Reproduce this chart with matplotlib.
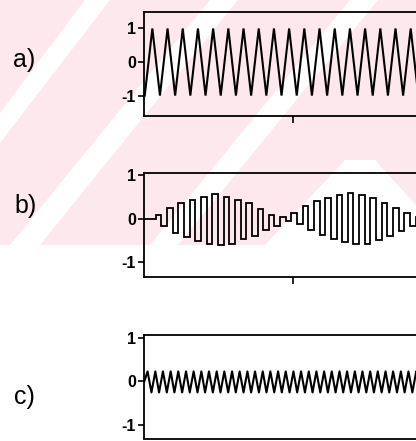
import numpy as np
import matplotlib
matplotlib.use("Agg")
import matplotlib.pyplot as plt
from matplotlib.patches import Polygon

# ---------------- data ----------------
panel_labels = ["a)", "b)", "c)"]
ytick_vals = [-1, 0, 1]
ytick_labels = ["-1", "0", "1"]
xtick_vals = [1.0]

# a) triangle wave vertices
a_t = [0.003, 0.054, 0.105, 0.156, 0.207, 0.258, 0.309, 0.360, 0.411, 0.462,
       0.513, 0.564, 0.615, 0.666, 0.717, 0.768, 0.819, 0.870, 0.921, 0.972,
       1.023, 1.074, 1.125, 1.176, 1.227, 1.278, 1.329, 1.380, 1.431, 1.482,
       1.533, 1.584, 1.635, 1.686, 1.737, 1.788, 1.839, 1.890, 1.941, 1.992]
a_v = [-1, 1, -1, 1, -1, 1, -1, 1, -1, 1,
       -1, 1, -1, 1, -1, 1, -1, 1, -1, 1,
       -1, 1, -1, 1, -1, 1, -1, 1, -1, 1,
       -1, 1, -1, 1, -1, 1, -1, 1, -1, 1]

# b) stepped (square) carrier with beating envelope
b_edges = [0.000, 0.077, 0.115, 0.153, 0.191, 0.229, 0.267, 0.305, 0.342, 0.380,
           0.418, 0.456, 0.494, 0.532, 0.570, 0.608, 0.646, 0.684, 0.722, 0.760,
           0.798, 0.835, 0.873, 0.911, 0.949, 0.987, 1.025, 1.063, 1.101, 1.139,
           1.177, 1.215, 1.253, 1.290, 1.328, 1.366, 1.404, 1.442, 1.480, 1.518,
           1.556, 1.594, 1.632, 1.670, 1.708, 1.746, 1.783, 1.821, 1.859, 1.897,
           2.000]
b_up = [0.09, 0.25, 0.35, 0.43, 0.50, 0.56, 0.50, 0.43, 0.35, 0.23, 0.08, 0.03,
        0.12, 0.30, 0.40, 0.48, 0.55, 0.60, 0.55, 0.47, 0.37, 0.25, 0.12, 0.04]
b_down = [-0.17, -0.33, -0.42, -0.52, -0.58, -0.62, -0.60, -0.48, -0.40, -0.27, -0.17, -0.05,
          -0.12, -0.27, -0.38, -0.47, -0.55, -0.60, -0.58, -0.50, -0.41, -0.30, -0.18, -0.07]

# c) small fast triangle wave vertices
c_t = [0.000, 0.022, 0.048, 0.074, 0.099, 0.125, 0.151, 0.177, 0.202, 0.228,
       0.254, 0.280, 0.305, 0.331, 0.357, 0.383, 0.408, 0.434, 0.460, 0.486,
       0.511, 0.537, 0.563, 0.589, 0.614, 0.640, 0.666, 0.692, 0.717, 0.743,
       0.769, 0.795, 0.820, 0.846, 0.872, 0.898, 0.923, 0.949, 0.975, 1.001,
       1.026, 1.052, 1.078, 1.104, 1.129, 1.155, 1.181, 1.207, 1.232, 1.258,
       1.284, 1.310, 1.335, 1.361, 1.387, 1.413, 1.438, 1.464, 1.490, 1.516,
       1.541, 1.567, 1.593, 1.619, 1.644, 1.670, 1.696, 1.722, 1.747, 1.773,
       1.799, 1.825, 1.850, 1.876, 1.902, 1.928, 1.953, 1.979]
c_v = [0.0, 0.23, -0.25, 0.23, -0.25, 0.23, -0.25, 0.23, -0.25, 0.23,
       -0.25, 0.23, -0.25, 0.23, -0.25, 0.23, -0.25, 0.23, -0.25, 0.23,
       -0.25, 0.23, -0.25, 0.23, -0.25, 0.23, -0.25, 0.23, -0.25, 0.23,
       -0.25, 0.23, -0.25, 0.23, -0.25, 0.23, -0.25, 0.23, -0.25, 0.23,
       -0.25, 0.23, -0.25, 0.23, -0.25, 0.23, -0.25, 0.23, -0.25, 0.23,
       -0.25, 0.23, -0.25, 0.23, -0.25, 0.23, -0.25, 0.23, -0.25, 0.23,
       -0.25, 0.23, -0.25, 0.23, -0.25, 0.23, -0.25, 0.23, -0.25, 0.23,
       -0.25, 0.23, -0.25, 0.23, -0.25, 0.23, -0.25, 0.23]

# ---------------- figure ----------------
W, H = 416, 441
fig = plt.figure(figsize=(W / 100, H / 100), dpi=100)
fig.patch.set_facecolor("white")

PINK = "#fde9ed"

def px(x, y):
    return (x / W, 1 - y / H)

# background watermark (approximate)
bg = [
    [(0, 0), (416, 0), (416, 205), (375, 160), (345, 160), (265, 245), (0, 245)],
]
for poly in bg:
    fig.patches.append(Polygon([px(*p) for p in poly], closed=True,
                               transform=fig.transFigure, facecolor=PINK,
                               edgecolor="none", zorder=-10))
white_bands = [
    [(85, 0), (110, 0), (0, 143), (0, 113)],
    [(238, 0), (210, 0), (10, 245), (40, 245)],
    [(378, 0), (350, 0), (150, 245), (178, 245)],
]
for poly in white_bands:
    fig.patches.append(Polygon([px(*p) for p in poly], closed=True,
                               transform=fig.transFigure, facecolor="white",
                               edgecolor="none", zorder=-9))

left = 144.3 / W
width = 298 / W
boxes = [(11.7, 115.7), (173.3, 276.7), (335.0, 438.5)]
ylims = [(-1.6, 1.5), (-1.35, 1.05), (-1.30, 1.06)]
label_pos = [(13, 60), (14, 206), (14, 397)]

axes = []
for i, ((top, bot), yl) in enumerate(zip(boxes, ylims)):
    ax = fig.add_axes([left, 1 - bot / H, width, (bot - top) / H])
    ax.patch.set_alpha(0)
    ax.set_xlim(0, 2)
    ax.set_ylim(*yl)
    ax.set_yticks(ytick_vals)
    ax.set_yticklabels(ytick_labels, fontfamily="Liberation Sans",
                       fontweight="bold", fontsize=11.5)
    ax.set_xticks(xtick_vals if i < 2 else [])
    ax.set_xticklabels([])
    ax.tick_params(axis="y", direction="out", length=4, width=1.2, pad=2)
    ax.tick_params(axis="x", direction="out", length=5, width=1.2)
    for s in ax.spines.values():
        s.set_linewidth(1.3)
    axes.append(ax)

axes[0].plot(a_t, a_v, color="black", lw=1.5, solid_joinstyle="miter")

b_vals = [0.0]
for u, d in zip(b_up, b_down):
    b_vals += [u, d]
b_vals += [0.0]
axes[1].stairs(b_vals, b_edges, baseline=None, color="black", lw=1.3)

axes[2].plot(c_t, c_v, color="black", lw=1.5)

for lab, (x, y) in zip(panel_labels, label_pos):
    fig.text(x / W, 1 - y / H, lab, fontsize=18, fontfamily="Liberation Sans",
             ha="left", va="center")

fig.savefig("out.png", dpi=100)
